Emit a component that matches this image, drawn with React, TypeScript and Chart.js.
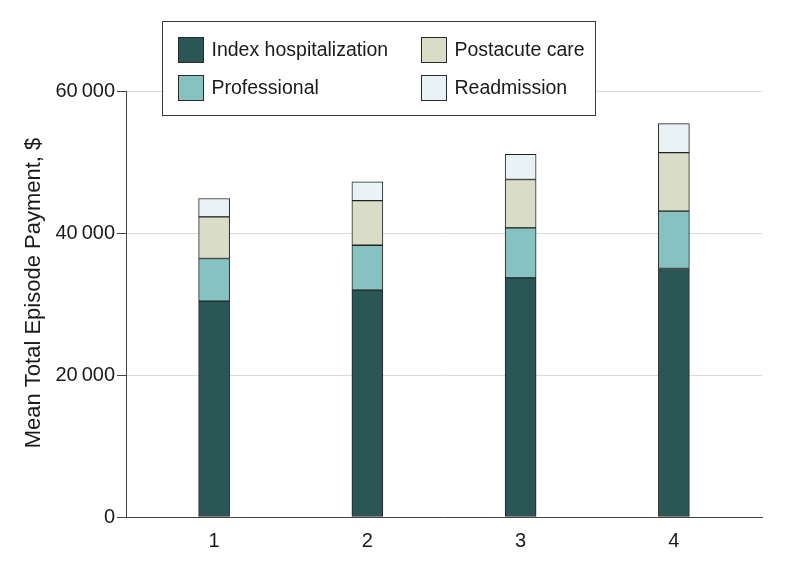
import React, { useEffect, useRef } from "react";
import { Chart, registerables } from "chart.js";

Chart.register(...registerables);

const categories = [1, 2, 3, 4];
const seriesNames = ["Index hospitalization", "Professional", "Postacute care", "Readmission"];
const indexHospitalization = [30400, 31950, 33680, 35000];
const professional = [6010, 6330, 7040, 8070];
const postacuteCare = [5860, 6290, 6810, 8260];
const readmission = [2590, 2620, 3560, 4080];
const yTicks = [0, 20000, 40000, 60000];
const yTitle = "Mean Total Episode Payment, $";
const colors = ["#2b5656", "#86c2c1", "#d9dcc6", "#e9f3f5"];

const FONT = "'Liberation Sans', Arial, sans-serif";

function fmt(v: number): string {
  if (v === 0) return "0";
  const s = String(v);
  return s.slice(0, s.length - 3) + "\u2009" + s.slice(s.length - 3);
}

const legendPlugin = {
  id: "boxLegend",
  afterDraw(chart: any) {
    const ctx = chart.ctx;
    ctx.save();
    // y-axis title
    ctx.save();
    ctx.translate(34, 293);
    ctx.rotate(-Math.PI / 2);
    ctx.font = "22px " + FONT;
    ctx.fillStyle = "#1a1a1a";
    ctx.textAlign = "center";
    ctx.textBaseline = "middle";
    ctx.fillText(yTitle, 0, 0);
    ctx.restore();
    // legend box
    const bx = 162.5, by = 21.5, bw = 433, bh = 94;
    ctx.fillStyle = "#ffffff";
    ctx.fillRect(bx, by, bw, bh);
    ctx.strokeStyle = "#3a3a3a";
    ctx.lineWidth = 1;
    ctx.strokeRect(bx, by, bw, bh);
    const items = [
      { i: 0, x: 178.5, y: 37.5 },
      { i: 1, x: 178.5, y: 75.5 },
      { i: 2, x: 421.5, y: 37.5 },
      { i: 3, x: 421.5, y: 75.5 },
    ];
    ctx.font = "19.5px " + FONT;
    ctx.textBaseline = "middle";
    ctx.textAlign = "left";
    for (const it of items) {
      ctx.fillStyle = colors[it.i];
      ctx.fillRect(it.x, it.y, 25, 25);
      ctx.strokeStyle = "#2a2a2a";
      ctx.strokeRect(it.x, it.y, 25, 25);
      ctx.fillStyle = "#1a1a1a";
      ctx.fillText(seriesNames[it.i], it.x + 33, it.y + 13);
    }
    ctx.restore();
  },
};

export default function App() {
  const ref = useRef<HTMLCanvasElement>(null);
  useEffect(() => {
    document.body.style.margin = "0";
    const series = [indexHospitalization, professional, postacuteCare, readmission];
    const chart = new Chart(ref.current as HTMLCanvasElement, {
      type: "bar",
      data: {
        datasets: series.map((vals, i) => ({
          label: seriesNames[i],
          data: categories.map((c, j) => ({ x: c, y: vals[j] })),
          backgroundColor: colors[i],
          borderColor: "#222222",
          borderWidth: 1,
          borderSkipped: false,
          barThickness: 31,
        })),
      },
      options: {
        responsive: false,
        animation: false,
        layout: { padding: { left: 0, right: 32, top: 91, bottom: 0 } },
        plugins: { legend: { display: false }, tooltip: { enabled: false } },
        scales: {
          x: {
            type: "linear",
            stacked: true,
            offset: false,
            min: 0.425,
            max: 4.575,
            afterBuildTicks: (s: any) => {
              s.ticks = categories.map((v) => ({ value: v }));
            },
            afterFit: (s: any) => {
              s.height = 50;
            },
            grid: { display: false, drawTicks: false },
            border: { display: true, color: "#444444", width: 1 },
            ticks: {
              padding: 12,
              color: "#1a1a1a",
              font: { family: FONT, size: 20 },
              callback: (v: any) => String(v),
            },
          },
          y: {
            stacked: true,
            min: 0,
            max: 60000,
            afterBuildTicks: (s: any) => {
              s.ticks = yTicks.map((v) => ({ value: v }));
            },
            afterFit: (s: any) => {
              s.width = 126;
            },
            grid: {
              color: "#d9d9d9",
              lineWidth: 1,
              tickColor: "#444444",
              tickLength: 9,
              drawTicks: true,
            },
            border: { display: true, color: "#444444", width: 1 },
            ticks: {
              padding: 2,
              color: "#1a1a1a",
              font: { family: FONT, size: 20 },
              callback: (v: any) => fmt(Number(v)),
            },
            title: { display: false },
          },
        },
      },
      plugins: [legendPlugin],
    } as any);
    return () => chart.destroy();
  }, []);
  return (
    <div style={{ width: 794, height: 567 }}>
      <canvas ref={ref} width={794} height={567} style={{ display: "block" }} />
    </div>
  );
}
